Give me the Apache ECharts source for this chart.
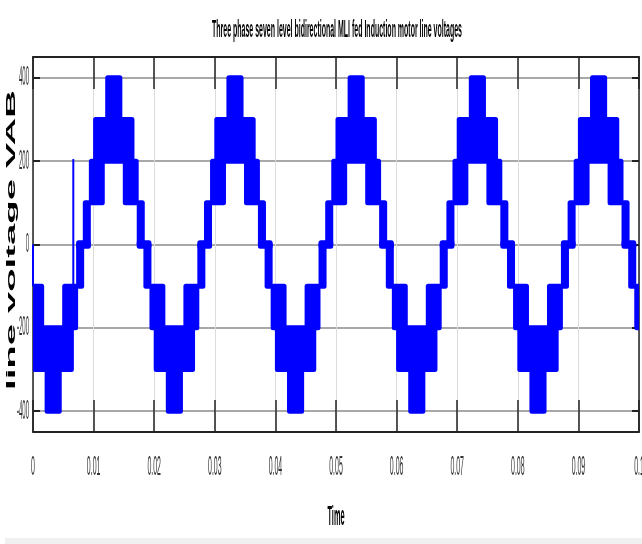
<!DOCTYPE html>
<html><head><meta charset="utf-8">
<script src="https://cdn.jsdelivr.net/npm/echarts@6/dist/echarts.min.js"></script>
<style>html,body{margin:0;padding:0;background:#fff}#c{width:642px;height:544px}</style>
</head><body><div id="c"></div>
<script>
const titleText = 'Three phase seven level bidirectional MLI fed Induction motor line voltages';
const xName = 'Time';
const yName = 'line voltage VAB';
const xTickValues = [0, 0.01, 0.02, 0.03, 0.04, 0.05, 0.06, 0.07, 0.08, 0.09, 0.1];
const xTickLabels = ['0', '0.01', '0.02', '0.03', '0.04', '0.05', '0.06', '0.07', '0.08', '0.09', '0.1'];
const yTickValues = [-400, -200, 0, 200, 400];
const yTickLabels = ['-400', '-200', '0', '200', '400'];

// switching bands [tStart, tEnd, lowLevel, highLevel]
const bands4 = [
  [0.00233,0.00433,-400,-300],[0.01233,0.01433,300,400],[0.02233,0.02433,-400,-300],
  [0.03233,0.03433,300,400],[0.04233,0.04433,-400,-300],[0.05233,0.05433,300,400],
  [0.06233,0.06433,-400,-300],[0.07233,0.07433,300,400],[0.08233,0.08433,-400,-300],
  [0.09233,0.09433,300,400]
];
const bands3 = [
  [0.00033,0.00633,-300,-200],[0.01033,0.01633,200,300],[0.02033,0.02633,-300,-200],
  [0.03033,0.03633,200,300],[0.04033,0.04633,-300,-200],[0.05033,0.05633,200,300],
  [0.06033,0.06633,-300,-200],[0.07033,0.07633,200,300],[0.08033,0.08633,-300,-200],
  [0.09033,0.09633,200,300]
];
const bands2 = [
  [0.00000,0.00143,-200,-100],[0.00523,0.00703,-200,-100],
  [0.00963,0.01143,100,200],[0.01523,0.01703,100,200],
  [0.01963,0.02143,-200,-100],[0.02523,0.02703,-200,-100],
  [0.02963,0.03143,100,200],[0.03523,0.03703,100,200],
  [0.03963,0.04143,-200,-100],[0.04523,0.04703,-200,-100],
  [0.04963,0.05143,100,200],[0.05523,0.05703,100,200],
  [0.05963,0.06143,-200,-100],[0.06523,0.06703,-200,-100],
  [0.06963,0.07143,100,200],[0.07523,0.07703,100,200],
  [0.07963,0.08143,-200,-100],[0.08523,0.08703,-200,-100],
  [0.08963,0.09143,100,200],[0.09523,0.09703,100,200],
  [0.09963,0.10000,-200,-100]
];
const bands1 = [
  [0.00753,0.00803,-100,0],
  [0.00863,0.00913,0,100],[0.01753,0.01803,0,100],
  [0.01863,0.01913,-100,0],[0.02753,0.02803,-100,0],
  [0.02863,0.02913,0,100],[0.03753,0.03803,0,100],
  [0.03863,0.03913,-100,0],[0.04753,0.04803,-100,0],
  [0.04863,0.04913,0,100],[0.05753,0.05803,0,100],
  [0.05863,0.05913,-100,0],[0.06753,0.06803,-100,0],
  [0.06863,0.06913,0,100],[0.07753,0.07803,0,100],
  [0.07863,0.07913,-100,0],[0.08753,0.08803,-100,0],
  [0.08863,0.08913,0,100],[0.09753,0.09803,0,100],
  [0.09863,0.09913,-100,0]
];
const zeroSteps = [
  [0.00753,0.00913,-4,4],[0.01753,0.01913,-4,4],[0.02753,0.02913,-4,4],
  [0.03753,0.03913,-4,4],[0.04753,0.04913,-4,4],[0.05753,0.05913,-4,4],
  [0.06753,0.06913,-4,4],[0.07753,0.07913,-4,4],[0.08753,0.08913,-4,4],
  [0.09753,0.09913,-4,4]
];
const startEdge = [[0, 0], [0, -100]];
const spike = [[0.00665, -100], [0.00665, 205]];

const BLUE = '#0000ff';
const chart = echarts.init(document.getElementById('c'), null, {renderer: 'canvas'});

function measure(str, font) {
  const ctx = document.createElement('canvas').getContext('2d');
  ctx.font = font;
  return ctx.measureText(str).width;
}
const titleFont = 'bold 12px "Liberation Sans", Arial, sans-serif';
const titleW = measure(titleText, titleFont);
const nameFont = 'bold 13px "Liberation Sans", Arial, sans-serif';
const xNameW = measure(xName, nameFont);
const yNameW = measure(yName, nameFont);
const tickFont = '12px "Liberation Sans", Arial, sans-serif';

const allBands = [].concat(zeroSteps, bands1, bands2, bands3, bands4);

function renderBand(params, api) {
  const p0 = api.coord([api.value(0), api.value(3)]);
  const p1 = api.coord([api.value(1), api.value(2)]);
  return {
    type: 'rect',
    shape: {x: p0[0], y: p0[1], width: p1[0] - p0[0], height: p1[1] - p0[1]},
    style: {fill: BLUE, stroke: BLUE, lineWidth: 5, lineJoin: 'round'}
  };
}

chart.setOption({
  animation: false,
  backgroundColor: '#fff',
  grid: {left: 33, right: 3, top: 57, bottom: 112, containLabel: false, outerBoundsMode: 'none'},
  xAxis: [{
    type: 'value', min: 0, max: 0.1, interval: 0.01, position: 'bottom',
    axisLine: {show: true, onZero: false, lineStyle: {color: '#222', width: 2}},
    axisTick: {show: true, inside: true, length: 32, lineStyle: {color: '#222', width: 1.5}},
    axisLabel: {show: false},
    splitLine: {show: true, lineStyle: {color: '#dcdcdc', width: 1}}
  }, {
    type: 'value', min: 0, max: 0.1, interval: 0.01, position: 'top',
    axisLine: {show: true, onZero: false, lineStyle: {color: '#222', width: 2}},
    axisTick: {show: true, inside: true, length: 32, lineStyle: {color: '#222', width: 1.5}},
    axisLabel: {show: false}, splitLine: {show: false}
  }],
  yAxis: [{
    type: 'value', min: -450, max: 450, position: 'left',
    axisLine: {show: true, onZero: false, lineStyle: {color: '#222', width: 1.5}},
    axisTick: {show: true, inside: true, length: 7, customValues: yTickValues, lineStyle: {color: '#222', width: 2}},
    axisLabel: {show: false, customValues: yTickValues},
    splitLine: {show: true, lineStyle: {color: '#a8a8a8', width: 2}}
  }, {
    type: 'value', min: -450, max: 450, position: 'right',
    axisLine: {show: true, onZero: false, lineStyle: {color: '#222', width: 1.5}},
    axisTick: {show: true, inside: true, length: 7, customValues: yTickValues, lineStyle: {color: '#222', width: 2}},
    axisLabel: {show: false, customValues: yTickValues}, splitLine: {show: false}
  }],
  series: [{
    type: 'custom', xAxisIndex: 0, yAxisIndex: 0, clip: true,
    renderItem: renderBand, data: allBands, encode: {x: [0, 1], y: [2, 3]}, silent: true
  }, {
    type: 'line', xAxisIndex: 0, yAxisIndex: 0, data: startEdge, symbol: 'none',
    lineStyle: {color: BLUE, width: 2}, clip: true, silent: true
  }, {
    type: 'line', xAxisIndex: 0, yAxisIndex: 0, data: spike, symbol: 'none',
    lineStyle: {color: BLUE, width: 2}, clip: true, silent: true
  }]
});

// condensed tick labels, placed through the axes' own scales
const elements = [];
const bottomPx = chart.convertToPixel({yAxisIndex: 0}, -450);
const leftPx = chart.convertToPixel({xAxisIndex: 0}, 0);
xTickValues.forEach((v, i) => {
  elements.push({
    type: 'text', id: 'xl' + i, x: chart.convertToPixel({xAxisIndex: 0}, v), y: bottomPx + 35,
    scaleX: 0.58, scaleY: 2.3, silent: true,
    style: {text: xTickLabels[i], font: tickFont, fill: '#333', textAlign: 'center', textVerticalAlign: 'middle'}
  });
});
yTickValues.forEach((v, i) => {
  elements.push({
    type: 'text', id: 'yl' + i, x: leftPx - 4, y: chart.convertToPixel({yAxisIndex: 0}, v),
    scaleX: 0.5, scaleY: 2.3, silent: true,
    style: {text: yTickLabels[i], font: tickFont, fill: '#333', textAlign: 'right', textVerticalAlign: 'middle'}
  });
});
elements.push({
  type: 'text', id: 'title', x: 337, y: 30, scaleX: 250 / titleW, scaleY: 2.0, silent: true,
  style: {text: titleText, font: titleFont, fill: '#000', textAlign: 'center', textVerticalAlign: 'middle'}
});
elements.push({
  type: 'text', id: 'xname', x: 336, y: 517, scaleX: 17 / xNameW, scaleY: 2.1, silent: true,
  style: {text: xName, font: nameFont, fill: '#000', textAlign: 'center', textVerticalAlign: 'middle'}
});
elements.push({
  type: 'text', id: 'yname', x: 11, y: 240, rotation: Math.PI / 2, scaleX: 300 / yNameW, scaleY: 1.0, silent: true,
  style: {text: yName, font: nameFont, fill: '#000', textAlign: 'center', textVerticalAlign: 'middle'}
});
elements.push({
  type: 'rect', id: 'strip', shape: {x: 5, y: 538, width: 637, height: 6}, silent: true,
  style: {fill: '#f0f0f0'}
});
chart.setOption({graphic: {elements: elements}});
</script></body></html>
